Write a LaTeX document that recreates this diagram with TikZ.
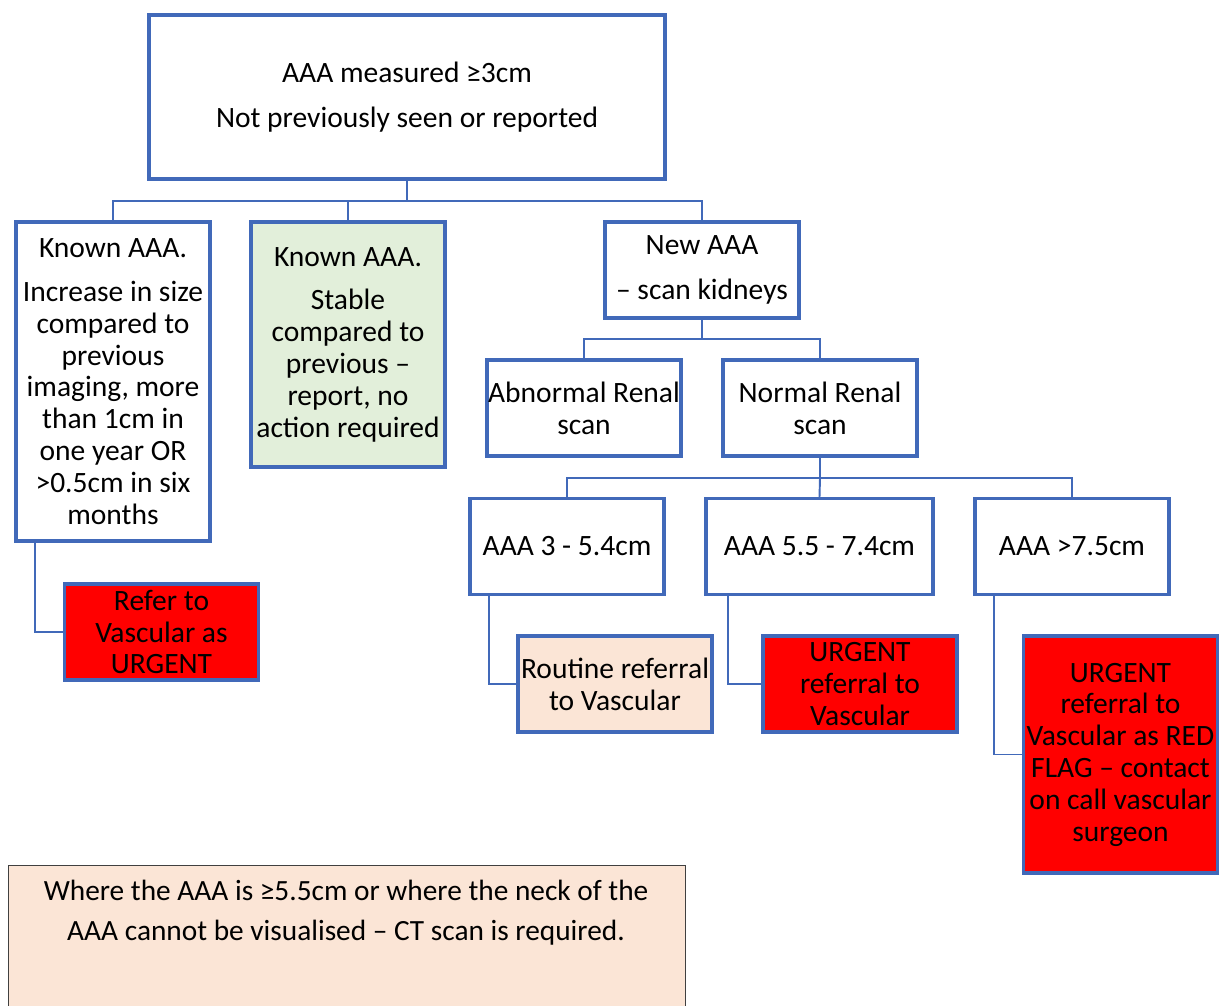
\documentclass[tikz,border=0pt]{standalone}
\usepackage{fontspec}
\setmainfont{Carlito}
\usepackage{tikz}
\usetikzlibrary{positioning}

\definecolor{boxblue}{HTML}{4169B9}
\definecolor{stablegreen}{HTML}{E2EFDA}
\definecolor{routinepeach}{HTML}{FBE5D6}
\definecolor{urgentred}{HTML}{FF0000}
\newcommand{\pxu}{0.02cm}

\begin{document}
\begin{tikzpicture}[
    x=0.02cm, y=-0.02cm,
    every node/.style={font=\fontsize{16.8}{18.1}\selectfont, align=center, inner sep=0pt},
    box/.style={rectangle, draw=boxblue, line width=1.9pt, minimum width=194*\pxu, minimum height=96*\pxu},
    urgentbox/.style={box, fill=urgentred},
    link/.style={draw=boxblue, line width=1.1pt}
]
\useasboundingbox (0,0) rectangle (1220,1005);

% top level
\node (top) [box, minimum width=516*\pxu, minimum height=164*\pxu] at (407,97)
    {AAA measured ≥3cm\\[7.4pt]Not previously seen or reported};

\node (known1) [box, minimum height=319*\pxu] at (113,381.5)
    {Known AAA.\\[6.8pt]Increase in size\\compared to\\previous\\imaging, more\\than 1cm in\\one year OR\\>0.5cm in six\\months};
\node (known2) [box, fill=stablegreen, minimum height=245*\pxu] at (348,344.5)
    {Known AAA.\\[6.8pt]Stable\\compared to\\previous –\\report, no\\action required};
\node (newaaa) [box] at (702,270) {New AAA\\[7.4pt]– scan kidneys};

% renal scan
\node (abnormal) [box] at (584,408) {Abnormal Renal\\scan};
\node (normal) [box] at (820,408) {Normal Renal\\scan};

% size bands
\node (small) [box] at (567,546.5) {AAA 3 - 5.4cm};
\node (medium) [box, minimum width=227*\pxu] at (819.5,546.5) {AAA 5.5 - 7.4cm};
\node (large) [box] at (1072,546.5) {AAA >7.5cm};

% actions
\node (refer) [urgentbox] at (161.5,632) {Refer to\\Vascular as\\URGENT};
\node (routine) [box, fill=routinepeach] at (615,684) {Routine referral\\to Vascular};
\node (urgent) [urgentbox] at (860,684) {URGENT\\referral to\\Vascular};
\node (redflag) [urgentbox, minimum height=237*\pxu] at (1120.5,754.5)
    {URGENT\\referral to\\Vascular as RED\\FLAG – contact\\on call vascular\\surgeon};

% note
\node (note) [rectangle, draw=black!75, line width=0.8pt, fill=routinepeach, anchor=north west,
    minimum width=677*\pxu, minimum height=180*\pxu] at (8,865) {};
\node (notetext) [font=\fontsize{16.7}{22.6}\selectfont] at (346,913)
    {Where the AAA is ≥5.5cm or where the neck of the\\AAA cannot be visualised – CT scan is required.};

% connectors
\coordinate (bus1) at (407,201);
\coordinate (bus2) at (702,339);
\coordinate (bus3) at (820,478);

\draw [link] (top.south) -- (bus1) -| (known1.north);
\draw [link] (bus1) -| (known2.north);
\draw [link] (bus1) -| (newaaa.north);

\draw [link] (newaaa.south) -- (bus2) -| (abnormal.north);
\draw [link] (bus2) -| (normal.north);

\draw [link] (normal.south) -- (bus3) -| (small.north);
\draw [link] (bus3) -- (medium.north);
\draw [link] (bus3) -| (large.north);

\draw [link] ([xshift=21*\pxu]known1.south west) |- (refer.west);
\draw [link] ([xshift=21*\pxu]small.south west) |- (routine.west);
\draw [link] ([xshift=24*\pxu]medium.south west) |- (urgent.west);
\draw [link] ([xshift=21*\pxu]large.south west) |- (redflag.west);
\end{tikzpicture}
\end{document}
